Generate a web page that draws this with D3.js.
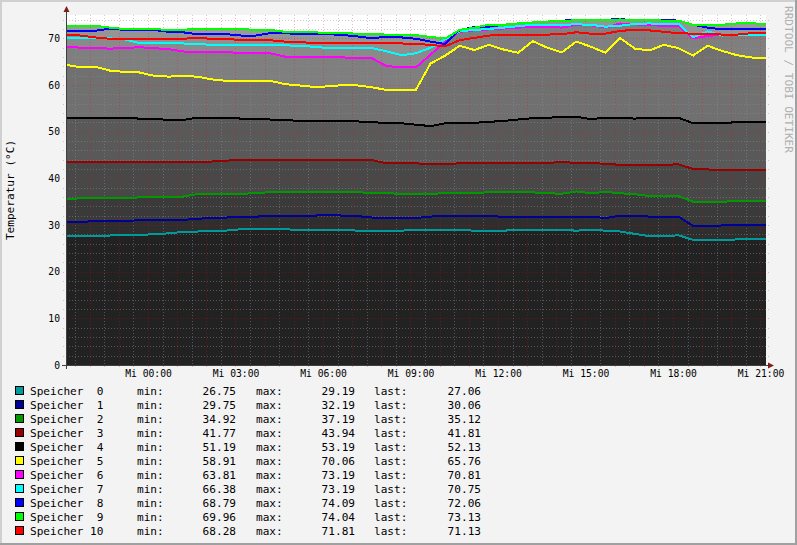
<!DOCTYPE html>
<html>
<head>
<meta charset="utf-8">
<script src="https://cdn.jsdelivr.net/npm/d3@7"></script>
<style>
  body { margin: 0; background: #f3f3f3; }
  svg { display: block; }
  text { font-family: "DejaVu Sans Mono", monospace; }
</style>
</head>
<body>
<div class="canvas"></div>
<script>
// readings every 30 minutes, Di 21:11 -> Mi 21:11
const speicher0 = [27.75, 27.75, 27.75, 27.75, 27.8, 27.9, 28.0, 28.2, 28.5, 28.6,
  28.8, 28.8, 29.1, 29.1, 29.19, 29.1, 28.9, 28.9, 28.9, 28.9,
  28.8, 28.8, 28.8, 28.8, 28.9, 28.9, 28.9, 28.9, 28.8, 28.8,
  28.8, 28.9, 28.9, 28.9, 28.9, 28.8, 28.9, 28.8, 28.6, 28.1,
  27.6, 27.6, 27.8, 26.8, 26.75, 26.8, 26.9, 27.0, 27.06];
const speicher1 = [30.7, 30.7, 30.8, 30.9, 30.9, 31.0, 31.0, 31.0, 31.1, 31.3,
  31.6, 31.6, 31.8, 31.8, 31.9, 31.9, 32.0, 32.0, 32.19, 32.0,
  31.9, 31.6, 31.6, 31.6, 31.5, 31.8, 32.0, 32.0, 32.0, 32.0,
  31.7, 31.7, 31.8, 31.8, 31.8, 31.8, 31.8, 31.5, 32.0, 32.0,
  31.8, 31.8, 31.8, 29.8, 29.75, 29.9, 30.0, 30.0, 30.06];
const speicher2 = [35.6, 35.7, 35.8, 35.8, 35.8, 35.9, 36.0, 36.0, 36.1, 36.6,
  36.6, 36.6, 36.6, 36.9, 37.0, 37.0, 37.0, 37.0, 37.0, 37.0,
  37.0, 36.9, 36.8, 36.7, 36.7, 36.7, 36.8, 36.9, 36.9, 37.0,
  37.0, 37.1, 37.0, 36.8, 36.7, 37.19, 36.8, 37.1, 36.8, 36.6,
  36.2, 36.1, 36.2, 35.0, 34.92, 35.0, 35.1, 35.1, 35.12];
const speicher3 = [43.6, 43.6, 43.6, 43.6, 43.6, 43.6, 43.6, 43.6, 43.6, 43.6,
  43.6, 43.8, 43.9, 43.9, 43.9, 43.9, 43.94, 43.9, 43.9, 43.9,
  43.9, 43.9, 43.2, 43.2, 43.2, 43.1, 43.1, 43.2, 43.2, 43.3,
  43.3, 43.3, 43.3, 43.3, 43.5, 43.3, 43.3, 43.1, 42.9, 42.9,
  42.9, 42.9, 43.0, 42.0, 41.9, 41.8, 41.77, 41.8, 41.81];
const speicher4 = [53.0, 53.0, 53.0, 53.0, 53.0, 52.8, 52.8, 52.5, 52.5, 53.0,
  53.0, 53.0, 52.8, 52.8, 52.6, 52.5, 52.3, 52.3, 52.3, 52.3,
  52.2, 52.0, 51.9, 51.8, 51.5, 51.19, 51.8, 51.8, 51.9, 52.1,
  52.3, 52.6, 52.9, 53.0, 53.1, 53.19, 52.7, 53.0, 53.0, 52.8,
  53.0, 53.0, 53.0, 51.8, 51.8, 51.9, 52.0, 52.1, 52.13];
const speicher5 = [64.3, 63.8, 63.9, 63.1, 62.8, 62.7, 62.0, 61.8, 61.9, 61.8,
  61.2, 60.9, 60.9, 60.9, 60.9, 60.2, 59.9, 59.6, 59.7, 60.0,
  59.9, 59.5, 58.91, 58.9, 59.0, 64.6, 66.3, 68.4, 67.5, 68.6,
  67.6, 66.9, 69.4, 68.0, 67.0, 69.3, 68.2, 66.9, 70.06, 67.8,
  67.4, 68.6, 67.9, 66.3, 68.4, 67.3, 66.4, 65.9, 65.76];
const speicher6 = [68.2, 68.0, 67.9, 67.8, 67.9, 68.1, 67.9, 67.7, 67.2, 67.0,
  67.0, 67.1, 66.8, 66.8, 66.8, 66.1, 66.1, 66.1, 66.0, 65.9,
  65.8, 65.7, 64.0, 63.9, 63.81, 66.5, 69.3, 71.4, 71.7, 71.9,
  72.1, 72.3, 72.4, 72.5, 72.3, 72.9, 72.8, 72.3, 73.19, 73.0,
  72.8, 72.7, 72.6, 70.0, 70.5, 70.8, 70.8, 70.8, 70.81];
const speicher7 = [70.0, 70.0, 70.0, 70.0, 69.8, 69.0, 68.9, 68.9, 68.9, 68.8,
  68.6, 68.6, 68.6, 68.5, 68.5, 68.5, 68.4, 68.2, 67.9, 67.9,
  67.9, 67.9, 67.2, 66.38, 66.8, 68.0, 69.8, 71.5, 71.8, 72.0,
  72.3, 72.6, 72.9, 72.9, 72.9, 73.0, 72.9, 72.5, 72.7, 73.1,
  73.19, 73.1, 73.1, 70.2, 71.5, 70.6, 70.7, 70.7, 70.75];
const speicher8 = [71.6, 71.6, 71.6, 72.1, 71.8, 71.8, 71.8, 71.4, 71.3, 70.9,
  70.9, 70.9, 70.6, 70.6, 71.1, 71.1, 70.9, 70.9, 70.9, 70.7,
  70.4, 70.0, 70.4, 70.2, 69.9, 69.3, 68.79, 71.8, 72.4, 72.5,
  72.9, 73.2, 73.4, 73.6, 73.8, 73.9, 73.9, 74.0, 74.09, 73.9,
  73.9, 73.9, 73.8, 72.9, 72.3, 71.9, 72.0, 72.0, 72.06];
const speicher9 = [72.7, 72.7, 72.7, 72.3, 72.0, 72.0, 72.0, 71.8, 71.8, 72.1,
  72.1, 72.1, 72.0, 71.8, 71.8, 71.4, 71.4, 71.3, 71.1, 71.1,
  71.0, 70.9, 70.8, 70.7, 70.7, 70.3, 69.96, 71.8, 72.3, 72.9,
  72.9, 73.2, 73.4, 73.6, 73.7, 73.9, 73.9, 73.9, 74.04, 73.9,
  73.9, 73.8, 73.8, 72.9, 72.9, 72.9, 73.2, 73.2, 73.13];
const speicher10 = [70.7, 70.6, 70.2, 69.9, 69.9, 69.9, 69.9, 69.9, 69.9, 70.1,
  69.9, 69.9, 69.6, 69.6, 69.6, 69.3, 69.3, 68.9, 68.9, 68.9,
  68.9, 69.0, 69.0, 68.9, 68.8, 68.6, 68.28, 69.6, 70.1, 70.6,
  70.7, 70.8, 70.8, 70.8, 70.9, 71.3, 71.0, 71.0, 71.6, 71.81,
  71.7, 71.4, 71.1, 71.0, 71.0, 70.8, 70.8, 71.1, 71.13];

const seriesLabels = ['Speicher  0', 'Speicher  1', 'Speicher  2', 'Speicher  3',
  'Speicher  4', 'Speicher  5', 'Speicher  6', 'Speicher  7', 'Speicher  8',
  'Speicher  9', 'Speicher 10'];
const minValues  = ['26.75', '29.75', '34.92', '41.77', '51.19', '58.91', '63.81', '66.38', '68.79', '69.96', '68.28'];
const maxValues  = ['29.19', '32.19', '37.19', '43.94', '53.19', '70.06', '73.19', '73.19', '74.09', '74.04', '71.81'];
const lastValues = ['27.06', '30.06', '35.12', '41.81', '52.13', '65.76', '70.81', '70.75', '72.06', '73.13', '71.13'];

const yTickValues = [0, 10, 20, 30, 40, 50, 60, 70];
const weekdays = ['So', 'Mo', 'Di', 'Mi', 'Do', 'Fr', 'Sa'];

const allSeries = [speicher0, speicher1, speicher2, speicher3, speicher4, speicher5,
  speicher6, speicher7, speicher8, speicher9, speicher10];
const lineColors = ['#009a9a', '#000099', '#009900', '#990000', '#000000', '#ffff00',
  '#ff00ff', '#00ffff', '#0000ff', '#00ff00', '#ff0000'];
const areaColors = ['#222222', '#2e2e2e', '#3a3a3a', '#484848', '#595959', '#707070',
  '#7f7f7f', '#8a8a8a', '#959595', '#9a9a9a', '#909090'];
// highest first so lower areas paint over them
const areaOrder = [9, 8, 10, 7, 6, 5, 4, 3, 2, 1, 0];

const width = 797, height = 545;
const plot = { left: 66, right: 766, top: 15, bottom: 365 };

const start = new Date(2008, 3, 15, 21, 11, 20);
const times = allSeries[0].map((d, i) => d3.timeMinute.offset(start, i * 30));

const svg = d3.select('.canvas').append('svg')
  .attr('width', width)
  .attr('height', height);

// frame
svg.append('rect').attr('width', width).attr('height', height).attr('fill', '#f3f3f3');
svg.append('rect').attr('width', width).attr('height', 2).attr('fill', '#d0d0d0');
svg.append('rect').attr('width', 2).attr('height', height).attr('fill', '#d0d0d0');
svg.append('rect').attr('x', 0).attr('y', height - 2).attr('width', width).attr('height', 2).attr('fill', '#a0a0a0');
svg.append('rect').attr('x', width - 2).attr('y', 0).attr('width', 2).attr('height', height).attr('fill', '#a0a0a0');

const x = d3.scaleTime()
  .domain([start, times[times.length - 1]])
  .range([plot.left, plot.right]);

const y = d3.scaleLinear()
  .domain([0, 75])
  .range([plot.bottom, plot.top]);

svg.append('rect')
  .attr('x', plot.left).attr('y', plot.top)
  .attr('width', plot.right - plot.left).attr('height', plot.bottom - plot.top)
  .attr('fill', '#ffffff');

// grey areas
const area = d3.area()
  .x((d, i) => x(times[i]))
  .y0(y(0))
  .y1(d => y(d));

svg.append('g').selectAll('path')
  .data(areaOrder)
  .enter().append('path')
  .attr('d', k => area(allSeries[k]))
  .attr('fill', k => areaColors[k])
  .attr('shape-rendering', 'crispEdges');

// grid
const grid = svg.append('g').attr('shape-rendering', 'crispEdges');
const minorY = y.ticks(37).filter(v => v % 10 !== 0 && v < 75);
const hours = x.ticks(d3.timeHour.every(1));
const halfHours = x.ticks(d3.timeMinute.every(30)).filter(d => d.getMinutes() !== 0);

grid.selectAll('.ymin').data(minorY).enter().append('line')
  .attr('x1', plot.left - 3).attr('x2', plot.right + 3)
  .attr('y1', d => Math.round(y(d)) + 0.5).attr('y2', d => Math.round(y(d)) + 0.5)
  .attr('stroke', 'rgba(145,145,145,0.46)').attr('stroke-dasharray', '1,2');
grid.selectAll('.xmin').data(halfHours).enter().append('line')
  .attr('x1', d => Math.round(x(d)) + 0.5).attr('x2', d => Math.round(x(d)) + 0.5)
  .attr('y1', plot.top).attr('y2', plot.bottom + 3)
  .attr('stroke', 'rgba(145,145,145,0.46)').attr('stroke-dasharray', '1,2');
grid.selectAll('.ymaj').data(yTickValues.slice(1)).enter().append('line')
  .attr('x1', plot.left - 3).attr('x2', plot.right + 3)
  .attr('y1', d => Math.round(y(d)) + 0.5).attr('y2', d => Math.round(y(d)) + 0.5)
  .attr('stroke', 'rgba(255,0,0,0.3)').attr('stroke-dasharray', '1,2');
grid.selectAll('.xmaj').data(hours).enter().append('line')
  .attr('x1', d => Math.round(x(d)) + 0.5).attr('x2', d => Math.round(x(d)) + 0.5)
  .attr('y1', plot.top).attr('y2', plot.bottom + 4)
  .attr('stroke', 'rgba(255,0,0,0.3)').attr('stroke-dasharray', '1,2');

// lines
const line = d3.line()
  .x((d, i) => x(times[i]))
  .y(d => y(d));

svg.append('g').selectAll('path')
  .data(allSeries)
  .enter().append('path')
  .attr('d', d => line(d))
  .attr('fill', 'none')
  .attr('stroke', (d, i) => lineColors[i])
  .attr('stroke-width', 2)
  .attr('shape-rendering', 'crispEdges');

// axes
const xAxis = d3.axisBottom(x)
  .ticks(d3.timeHour.every(3))
  .tickSize(0)
  .tickPadding(5)
  .tickFormat(d => weekdays[d.getDay()] + ' ' + d3.timeFormat('%H:%M')(d));
const yAxis = d3.axisLeft(y)
  .tickValues(yTickValues)
  .tickSize(0)
  .tickPadding(6);

const xAxisGroup = svg.append('g').attr('transform', `translate(0, ${plot.bottom})`).call(xAxis);
const yAxisGroup = svg.append('g').attr('transform', `translate(${plot.left}, 0)`).call(yAxis);
[xAxisGroup, yAxisGroup].forEach(g => {
  g.select('.domain').remove();
  g.selectAll('text')
    .attr('font-family', '"DejaVu Sans Mono", monospace')
    .attr('font-size', '9.7px')
    .attr('fill', '#000');
});

svg.append('line')
  .attr('x1', plot.left - 4).attr('x2', plot.right + 4)
  .attr('y1', plot.bottom + 0.5).attr('y2', plot.bottom + 0.5)
  .attr('stroke', '#404040').attr('shape-rendering', 'crispEdges');
svg.append('line')
  .attr('x1', plot.left + 0.5).attr('x2', plot.left + 0.5)
  .attr('y1', plot.bottom + 4).attr('y2', 10)
  .attr('stroke', '#404040').attr('shape-rendering', 'crispEdges');
svg.append('path')
  .attr('d', `M${plot.left - 2.5},${12} L${plot.left + 3.5},${12} L${plot.left + 0.5},${6} Z`)
  .attr('fill', '#7f1d1d');
svg.append('path')
  .attr('d', `M${plot.right + 2},${plot.bottom - 2.5} L${plot.right + 2},${plot.bottom + 3.5} L${plot.right + 8},${plot.bottom + 0.5} Z`)
  .attr('fill', '#7f1d1d');

// titles
svg.append('text')
  .attr('transform', 'translate(14, 190) rotate(-90)')
  .attr('text-anchor', 'middle')
  .attr('font-size', '11.1px')
  .text('Temperatur (°C)');

svg.append('text')
  .attr('transform', 'translate(785, 6) rotate(90)')
  .attr('font-size', '11.1px')
  .attr('fill', '#b0b0b0')
  .text('RRDTOOL / TOBI OETIKER');

// legend
const legend = svg.append('g').attr('font-size', '11.1px');
const rows = legend.selectAll('g')
  .data(seriesLabels)
  .enter().append('g')
  .attr('transform', (d, i) => `translate(0, ${391 + i * 14})`);

rows.append('rect')
  .attr('x', 15.5).attr('y', -4.5)
  .attr('width', 8).attr('height', 8)
  .attr('fill', (d, i) => lineColors[i])
  .attr('stroke', '#000');
rows.append('text').attr('x', 30).attr('y', 4).style('white-space', 'pre').text(d => d);
rows.append('text').attr('x', 137).attr('y', 4).text('min:');
rows.append('text').attr('x', 236).attr('y', 4).attr('text-anchor', 'end').text((d, i) => minValues[i]);
rows.append('text').attr('x', 256).attr('y', 4).text('max:');
rows.append('text').attr('x', 355).attr('y', 4).attr('text-anchor', 'end').text((d, i) => maxValues[i]);
rows.append('text').attr('x', 374).attr('y', 4).text('last:');
rows.append('text').attr('x', 481).attr('y', 4).attr('text-anchor', 'end').text((d, i) => lastValues[i]);
</script>
</body>
</html>
